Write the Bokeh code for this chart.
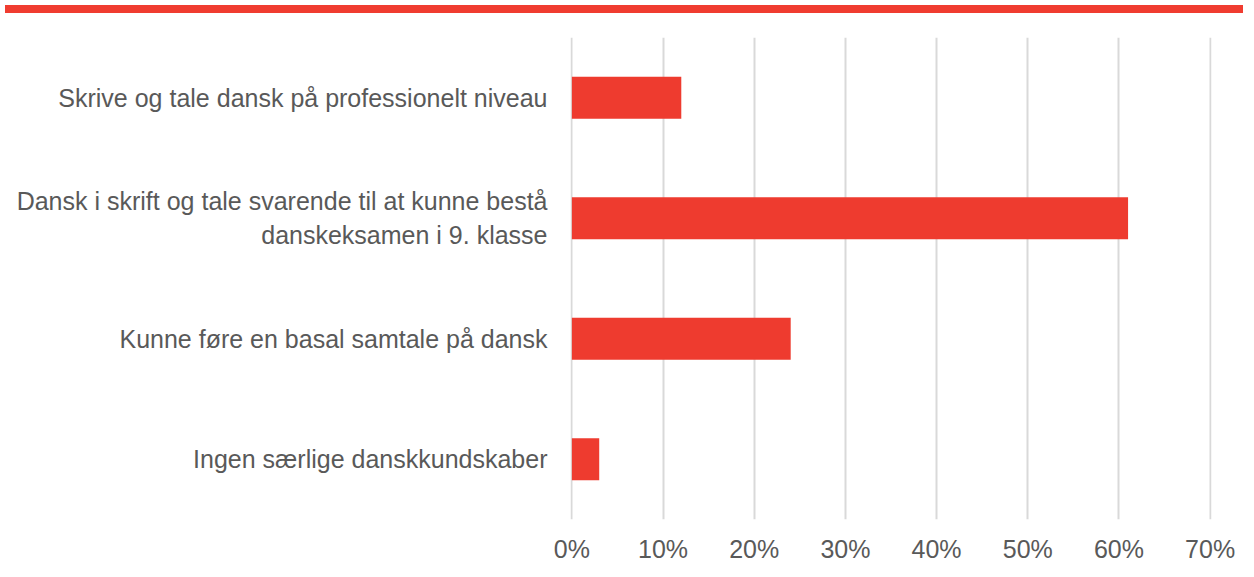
from bokeh.plotting import figure
from bokeh.models import Range1d, FactorRange, NumeralTickFormatter, FixedTicker, Div
from bokeh.layouts import column
from bokeh.embed import file_html
from bokeh.resources import INLINE

categories = [
    "Skrive og tale dansk på professionelt niveau",
    "Dansk i skrift og tale svarende til at kunne bestå\ndanskeksamen i 9. klasse",
    "Kunne føre en basal samtale på dansk",
    "Ingen særlige danskkundskaber",
]
values = [0.12, 0.61, 0.24, 0.03]
ticks = [0, 0.1, 0.2, 0.3, 0.4, 0.5, 0.6, 0.7]

RED = "#EE3B2F"
TEXT = "#595959"
FONT = "Liberation Sans"

band = Div(text="", width=1238, height=8,
           styles={"background-color": "#F03C30", "width": "1238px", "height": "8px"})

p = figure(width=1238, height=553,
           y_range=FactorRange(*categories[::-1], range_padding=0),
           x_range=Range1d(-0.0015, 0.7015),
           output_backend="svg", toolbar_location=None,
           min_border_left=570, min_border_right=27,
           min_border_top=19, min_border_bottom=52)

p.hbar(y=categories, right=values, left=0, height=0.35, color=RED, line_color=None)

p.outline_line_color = None
p.ygrid.grid_line_color = None
p.xgrid.grid_line_color = "#D9D9D9"
p.xgrid.grid_line_width = 2
p.xaxis.ticker = FixedTicker(ticks=ticks)
p.xaxis.formatter = NumeralTickFormatter(format="0%")
for ax in (p.xaxis, p.yaxis):
    ax.axis_line_color = None
    ax.major_tick_line_color = None
    ax.minor_tick_line_color = None
    ax.major_label_text_color = TEXT
    ax.major_label_text_font = FONT
p.xaxis.major_label_text_font_size = "25px"
p.xaxis.major_label_standoff = 9
p.yaxis.major_label_text_font_size = "25px"
p.yaxis.major_label_standoff = 17

layout = column(band, p, spacing=0)
open("out.html", "w").write(file_html(layout, INLINE))
